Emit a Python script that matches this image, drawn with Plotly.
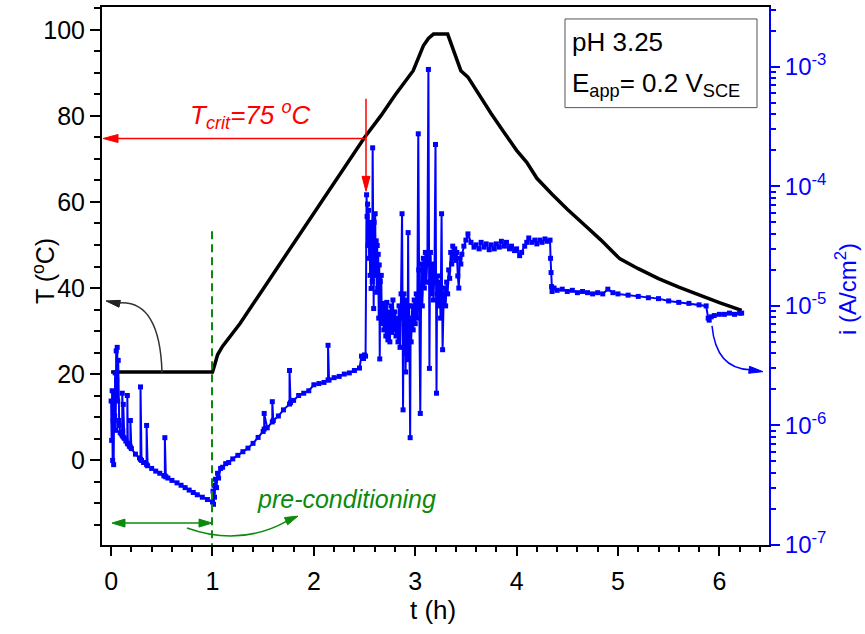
import math
import plotly.graph_objects as go

# ---------------- data ----------------
# Temperature programme (left axis)
temp_t = [0.0, 1.0, 1.02, 1.05, 1.1, 1.15, 1.27, 1.5, 2.0, 2.5,
          2.66, 2.8, 2.98, 3.08, 3.13, 3.18, 3.32, 3.37, 3.42, 3.45,
          3.52, 3.61, 3.75, 3.87, 4.0, 4.1, 4.2, 4.35, 4.5, 4.7,
          4.83, 5.0, 5.02, 5.2, 5.4, 5.6, 5.8, 6.0, 6.22]
temp_T = [20.5, 20.5, 22.0, 24.5, 26.5, 28.0, 31.7, 39.8, 57.5, 75.0,
          80.0, 84.8, 90.5, 96.3, 98.0, 99.0, 99.0, 95.6, 92.0, 90.5,
          89.0, 85.6, 80.5, 76.4, 72.0, 69.2, 65.5, 61.8, 58.3, 54.0,
          51.2, 47.2, 46.8, 44.5, 42.2, 40.2, 38.3, 36.6, 34.8]

# Current density (right axis), pre-conditioning period
cur_t_pre = [0.000, 0.005, 0.010, 0.015, 0.020, 0.025, 0.030, 0.035, 0.040, 0.045,
             0.050, 0.055, 0.060, 0.065, 0.070, 0.075, 0.080, 0.090, 0.100, 0.110,
             0.110, 0.115, 0.120, 0.120, 0.130, 0.145, 0.160, 0.160, 0.165, 0.180,
             0.190, 0.190, 0.200, 0.240, 0.280, 0.290, 0.290, 0.300, 0.320, 0.350,
             0.350, 0.360, 0.400, 0.440, 0.480, 0.520, 0.530, 0.530, 0.540, 0.560,
             0.600, 0.650, 0.690, 0.730, 0.770, 0.810, 0.850, 0.900, 0.950, 1.000]
cur_i_pre = [1.6e-6, 7.5e-7, 1.95e-6, 5.1e-7, 1.1e-6, 4.7e-7, 1.8e-6, 1.2e-6, 2.75e-6, 9.1e-7,
             4.2e-6, 2.4e-6, 4.5e-6, 1.6e-6, 3.5e-6, 1.1e-6, 1.0e-6, 8.7e-7, 8.5e-7, 8.2e-7,
             1.86e-6, 9.0e-7, 8.0e-7, 1.5e-6, 7.8e-7, 7.4e-7, 7.1e-7, 1.78e-6, 7.0e-7, 6.7e-7,
             6.6e-7, 1.1e-6, 6.4e-7, 5.75e-7, 5.35e-7, 5.2e-7, 2.1e-6, 5.1e-7, 4.9e-7, 4.7e-7,
             1.0e-6, 4.6e-7, 4.37e-7, 4.15e-7, 3.98e-7, 3.8e-7, 3.78e-7, 7.9e-7, 3.72e-7, 3.63e-7,
             3.47e-7, 3.31e-7, 3.16e-7, 3.02e-7, 2.88e-7, 2.75e-7, 2.63e-7, 2.51e-7, 2.40e-7, 2.29e-7]

# heating ramp, before pitting
cur_t_ramp = [1.005, 1.010, 1.015, 1.020, 1.030, 1.040, 1.050, 1.060, 1.080, 1.100,
              1.130, 1.160, 1.200, 1.250, 1.300, 1.350, 1.400, 1.450, 1.500, 1.510,
              1.510, 1.540, 1.590, 1.590, 1.600, 1.650, 1.700, 1.760, 1.760, 1.770,
              1.800, 1.850, 1.900, 1.950, 2.000, 2.050, 2.100, 2.140, 2.140, 2.150,
              2.200, 2.250, 2.300, 2.350, 2.400, 2.450, 2.470, 2.490, 2.500, 2.510]
cur_i_ramp = [2.82e-7, 2.19e-7, 3.16e-7, 2.51e-7, 3.55e-7, 3.02e-7, 3.98e-7, 3.63e-7, 4.37e-7, 4.47e-7,
              4.79e-7, 4.90e-7, 5.25e-7, 5.62e-7, 6.03e-7, 6.46e-7, 7.08e-7, 7.94e-7, 8.91e-7, 9.33e-7,
              1.26e-6, 9.55e-7, 1.07e-6, 1.58e-6, 1.10e-6, 1.20e-6, 1.35e-6, 1.51e-6, 2.88e-6, 1.55e-6,
              1.62e-6, 1.78e-6, 1.86e-6, 1.95e-6, 2.19e-6, 2.24e-6, 2.29e-6, 2.40e-6, 4.68e-6, 2.40e-6,
              2.51e-6, 2.57e-6, 2.69e-6, 2.75e-6, 2.88e-6, 3.02e-6, 3.80e-6, 3.63e-6, 3.89e-6, 3.80e-6]

# pitting burst
cur_t_burst = [2.52, 2.525, 2.53, 2.535, 2.54, 2.545, 2.55, 2.555, 2.56, 2.565,
               2.57, 2.575, 2.58, 2.585, 2.59, 2.595, 2.60, 2.605, 2.61, 2.615,
               2.62, 2.625, 2.63, 2.635, 2.64, 2.645, 2.65, 2.655, 2.66, 2.665,
               2.67, 2.68, 2.69, 2.70, 2.71, 2.72, 2.73, 2.74, 2.75, 2.76,
               2.77, 2.78, 2.79, 2.80, 2.81, 2.82, 2.83, 2.84, 2.85, 2.86,
               2.87, 2.875, 2.88, 2.885, 2.89, 2.895, 2.90, 2.905, 2.91, 2.915,
               2.92, 2.925, 2.93, 2.935, 2.94, 2.95, 2.955, 2.96, 2.97, 2.98,
               2.99, 3.00, 3.01, 3.02, 3.03, 3.035, 3.04, 3.05, 3.055, 3.06,
               3.07, 3.08, 3.09, 3.10, 3.11, 3.12, 3.13, 3.135, 3.14, 3.145,
               3.15, 3.16, 3.17, 3.18, 3.19, 3.20, 3.205, 3.21, 3.215, 3.22,
               3.23, 3.24, 3.25, 3.26, 3.265, 3.27, 3.28, 3.29, 3.30, 3.31,
               3.32, 3.33, 3.34, 3.35, 3.36, 3.37, 3.38, 3.39, 3.40, 3.41,
               3.42, 3.43, 3.44, 3.45, 3.46, 3.48, 3.50, 3.52]
cur_i_burst = [8.5e-5, 5.6e-5, 7.1e-5, 3.2e-5, 6.3e-5, 2.5e-5, 4.5e-5, 1.8e-5, 5.0e-5, 1.4e-5,
               3.5e-5, 1.6e-5, 2.1e-4, 2.5e-5, 9.5e-6, 5.0e-5, 2.8e-5, 5.9e-5, 1.8e-5, 3.5e-5,
               1.3e-5, 3.2e-5, 1.4e-5, 2.7e-5, 7.9e-6, 2.2e-5, 3.6e-6, 1.6e-5, 1.0e-5, 1.8e-5,
               7.1e-6, 1.05e-5, 6.3e-6, 1.0e-5, 5.6e-6, 1.07e-5, 5.2e-6, 8.9e-6, 5.0e-6, 1.0e-5,
               6.0e-6, 1.12e-5, 6.3e-6, 8.9e-6, 5.6e-6, 7.9e-6, 5.0e-6, 1.0e-5, 4.5e-6, 1.26e-5,
               5.9e-5, 1.0e-5, 1.35e-6, 7.9e-6, 1.26e-5, 4.0e-6, 1.0e-5, 2.8e-6, 1.12e-5, 5.0e-6,
               8.9e-6, 3.55e-6, 4.1e-5, 6.3e-6, 1.0e-5, 7.9e-7, 7.9e-6, 5.0e-6, 1.0e-5, 6.3e-6,
               1.12e-5, 7.1e-6, 1.26e-5, 7.9e-6, 2.75e-4, 2.0e-5, 1.0e-5, 1.26e-6, 1.26e-5, 2.24e-5,
               1.0e-5, 2.5e-5, 1.41e-5, 2.8e-5, 1.58e-5, 2.5e-5, 9.5e-4, 2.5e-5, 3.0e-6, 1.58e-5,
               2.8e-5, 1.26e-5, 2.24e-5, 1.12e-5, 2.0e-5, 2.24e-4, 1.58e-5, 1.86e-6, 1.26e-5, 1.78e-5,
               1.0e-5, 1.58e-5, 7.9e-6, 5.9e-5, 1.26e-5, 4.3e-6, 1.12e-5, 1.41e-5, 1.0e-5, 1.58e-5,
               1.26e-5, 2.0e-5, 1.7e-5, 2.8e-5, 2.24e-5, 3.16e-5, 2.5e-5, 3.0e-5, 2.4e-5, 2.8e-5,
               1.78e-5, 1.41e-5, 2.5e-5, 2.24e-5, 2.7e-5, 3.16e-5, 3.55e-5, 4.0e-5]

# high plateau
cur_t_plateau = [3.55, 3.58, 3.60, 3.63, 3.65, 3.68, 3.70, 3.73, 3.75, 3.78,
                 3.80, 3.83, 3.85, 3.88, 3.90, 3.93, 3.95, 3.98, 4.00, 4.03,
                 4.05, 4.08, 4.10, 4.12, 4.15, 4.18, 4.20, 4.23, 4.25, 4.28,
                 4.30, 4.33, 4.335, 4.34, 4.345, 4.35]
cur_i_plateau = [3.4e-5, 3.1e-5, 3.24e-5, 3.0e-5, 3.4e-5, 3.1e-5, 3.3e-5, 2.95e-5, 3.24e-5, 3.0e-5,
                 3.3e-5, 3.1e-5, 3.47e-5, 3.16e-5, 3.4e-5, 3.0e-5, 3.16e-5, 2.9e-5, 3.0e-5, 2.63e-5,
                 2.8e-5, 3.16e-5, 3.4e-5, 3.7e-5, 3.4e-5, 3.55e-5, 3.3e-5, 3.55e-5, 3.4e-5, 3.63e-5,
                 3.47e-5, 3.55e-5, 2.5e-5, 1.9e-5, 1.45e-5, 1.32e-5]

# cooling tail
cur_t_tail = [4.37, 4.40, 4.45, 4.50, 4.55, 4.60, 4.65, 4.70, 4.75, 4.80,
              4.85, 4.90, 4.95, 5.00, 5.10, 5.20, 5.30, 5.40, 5.50, 5.60,
              5.70, 5.80, 5.87, 5.89, 5.90, 5.92, 5.95, 6.00, 6.05, 6.10,
              6.15, 6.20, 6.22]
cur_i_tail = [1.41e-5, 1.35e-5, 1.38e-5, 1.32e-5, 1.35e-5, 1.29e-5, 1.32e-5, 1.29e-5, 1.26e-5, 1.29e-5,
              1.26e-5, 1.38e-5, 1.29e-5, 1.26e-5, 1.23e-5, 1.20e-5, 1.17e-5, 1.15e-5, 1.10e-5, 1.07e-5,
              1.05e-5, 1.02e-5, 1.0e-5, 7.9e-6, 7.6e-6, 8.1e-6, 8.3e-6, 8.5e-6, 8.5e-6, 8.7e-6,
              8.5e-6, 8.7e-6, 8.7e-6]

x_ticks = [0, 1, 2, 3, 4, 5, 6]
y_ticks = [0, 20, 40, 60, 80, 100]
y2_ticks = [1e-7, 1e-6, 1e-5, 1e-4, 1e-3]
y2_ticktext = ["10<sup>-7</sup>", "10<sup>-6</sup>", "10<sup>-5</sup>", "10<sup>-4</sup>", "10<sup>-3</sup>"]
t_crit = 75

cur_t = cur_t_pre + cur_t_ramp + cur_t_burst + cur_t_plateau + cur_t_tail
cur_i = cur_i_pre + cur_i_ramp + cur_i_burst + cur_i_plateau + cur_i_tail

# ---------------- geometry helpers (decorations) ----------------
W, H = 865, 634
PL, PR, PT, PB = 102, 769, 5, 545
XR = [-0.09, 6.49]
YR = [-19.7, 105.3]
Y2R = [-7, -2.5]
FONT = "Arial, Liberation Sans, sans-serif"
BLUE = "#0000FF"
GREEN = "#0B8A0B"
RED = "#FF0000"


def px2x(px):
    return XR[0] + (px - PL) / (PR - PL) * (XR[1] - XR[0])


def py2y(py):
    return YR[1] - (py - PT) / (PB - PT) * (YR[1] - YR[0])


def pxp(px):
    return (px - PL) / (PR - PL)


def pyp(py):
    return 1 - (py - PT) / (PB - PT)


def head(tip, frm, color, L=13, Wd=8):
    tx, ty = tip
    fx, fy = frm
    d = math.hypot(tx - fx, ty - fy)
    ux, uy = (tx - fx) / d, (ty - fy) / d
    bx, by = tx - ux * L, ty - uy * L
    nx, ny = -uy, ux
    p1 = (bx + nx * Wd / 2, by + ny * Wd / 2)
    p2 = (bx - nx * Wd / 2, by - ny * Wd / 2)
    path = (f"M {px2x(tx)},{py2y(ty)} L {px2x(p1[0])},{py2y(p1[1])} "
            f"L {px2x(p2[0])},{py2y(p2[1])} Z")
    return dict(type="path", path=path, xref="x", yref="y", fillcolor=color,
                line=dict(color=color, width=1), layer="above")


def seg(p0, p1, color, width=1.5, dash=None):
    ln = dict(color=color, width=width)
    if dash:
        ln["dash"] = dash
    return dict(type="line", xref="x", yref="y", x0=px2x(p0[0]), y0=py2y(p0[1]),
                x1=px2x(p1[0]), y1=py2y(p1[1]), line=ln, layer="above")


def curve(p0, c, p1, color, width=1.5):
    path = (f"M {px2x(p0[0])},{py2y(p0[1])} Q {px2x(c[0])},{py2y(c[1])} "
            f"{px2x(p1[0])},{py2y(p1[1])}")
    return dict(type="path", path=path, xref="x", yref="y",
                line=dict(color=color, width=width), layer="above")


fig = go.Figure()

fig.add_trace(go.Scatter(x=temp_t, y=temp_T, mode="lines",
                         line=dict(color="black", width=3.5), showlegend=False,
                         yaxis="y"))
fig.add_trace(go.Scatter(x=cur_t, y=cur_i, mode="lines+markers",
                         line=dict(color=BLUE, width=2),
                         marker=dict(symbol="square", size=5, color=BLUE),
                         showlegend=False, yaxis="y2"))

shapes = []
# T_crit arrows (red)
shapes.append(seg((366, 137), (112, 137), RED))
shapes.append(head((103, 137), (366, 137), RED, L=15, Wd=8))
shapes.append(seg((366, 97), (366, 178), RED))
shapes.append(head((366, 190), (366, 97), RED, L=15, Wd=8))
# black curved arrow pointing to T axis
shapes.append(curve((162, 372), (160, 300), (120, 302), "#333333", 1.5))
shapes.append(head((106, 300), (125, 304), "#222222", L=14, Wd=7))
# blue curved arrow pointing to current axis
shapes.append(curve((712, 325), (716, 368), (750, 369), BLUE, 1.5))
shapes.append(head((763, 371), (748, 369), BLUE, L=14, Wd=7))
# green dashed line at end of pre-conditioning
shapes.append(seg((212, 230), (212, 545), GREEN, 2, "8px,5px"))
# green double arrow
shapes.append(seg((122, 523), (202, 523), GREEN, 1.5))
shapes.append(head((112, 523), (212, 523), GREEN, L=13, Wd=8))
shapes.append(head((212, 523), (112, 523), GREEN, L=13, Wd=8))
# green curved arrow
shapes.append(curve((187, 528), (240, 547), (287, 521), GREEN, 1.5))
shapes.append(head((298, 516), (284, 522), GREEN, L=13, Wd=8))
# info box
shapes.append(dict(type="rect", xref="paper", yref="paper",
                   x0=pxp(565), x1=pxp(757), y0=pyp(106), y1=pyp(17),
                   line=dict(color="#555555", width=1), fillcolor="rgba(0,0,0,0)",
                   layer="above"))

annotations = [
    dict(text="<i>T<sub>crit</sub>=%d <sup>o</sup>C</i>" % t_crit, x=px2x(250), y=py2y(113),
         xref="x", yref="y", xanchor="center", yanchor="middle", showarrow=False,
         font=dict(family=FONT, size=26, color=RED)),
    dict(text="<i>pre-conditioning</i>", x=px2x(346), y=py2y(499), xref="x", yref="y",
         xanchor="center", yanchor="middle", showarrow=False,
         font=dict(family=FONT, size=25, color=GREEN)),
    dict(text="pH 3.25", x=pxp(570), y=pyp(40),
         xref="paper", yref="paper", xanchor="left", yanchor="middle", showarrow=False,
         font=dict(family=FONT, size=26, color="black")),
    dict(text="E<sub>app</sub>= 0.2 V<sub>SCE</sub>", x=pxp(570), y=pyp(83),
         xref="paper", yref="paper", xanchor="left", yanchor="middle", showarrow=False,
         font=dict(family=FONT, size=26, color="black")),
    # axis titles
    dict(text="T (<sup>o</sup>C)", x=pxp(44), y=pyp(270),
         xref="paper", yref="paper", xanchor="center", yanchor="middle",
         textangle=-90, showarrow=False,
         font=dict(family=FONT, size=25, color="black")),
    dict(text="i (A/cm<sup>2</sup>)", x=pxp(846), y=pyp(288),
         xref="paper", yref="paper", xanchor="center", yanchor="middle",
         textangle=-90, showarrow=False,
         font=dict(family=FONT, size=24, color=BLUE)),
    dict(text="t (h)", x=pxp(433), y=pyp(610),
         xref="paper", yref="paper", xanchor="center", yanchor="middle", showarrow=False,
         font=dict(family=FONT, size=26, color="black")),
]

y2_minor = [m * d for d in [1e-7, 1e-6, 1e-5, 1e-4, 1e-3] for m in range(2, 10)]

fig.update_layout(
    width=W, height=H, autosize=False,
    margin=dict(l=PL, r=W - PR, t=PT, b=H - PB, pad=0),
    paper_bgcolor="white", plot_bgcolor="white",
    font=dict(family=FONT, size=25, color="black"),
    showlegend=False,
    shapes=shapes, annotations=annotations,
    xaxis=dict(range=XR, tickvals=x_ticks, showgrid=False, zeroline=False,
               showline=True, linecolor="black", linewidth=2, mirror=True,
               ticks="outside", ticklen=9, tickwidth=2, tickcolor="black",
               ticklabelstandoff=4,
               tickfont=dict(family=FONT, size=25, color="black"),
               minor=dict(dtick=0.2, tick0=0, ticks="outside", ticklen=5,
                          tickwidth=1.5, tickcolor="black")),
    yaxis=dict(range=YR, tickvals=y_ticks, showgrid=False, zeroline=False,
               showline=True, linecolor="black", linewidth=2,
               ticks="outside", ticklen=10, tickwidth=2, tickcolor="black",
               tickfont=dict(family=FONT, size=25, color="black"),
               minor=dict(dtick=5, tick0=0, ticks="outside", ticklen=6,
                          tickwidth=1.5, tickcolor="black")),
    yaxis2=dict(type="log", range=Y2R, overlaying="y", side="right",
                tickvals=y2_ticks, ticktext=y2_ticktext, showgrid=False, zeroline=False,
                showline=True, linecolor=BLUE, linewidth=2,
                ticks="outside", ticklen=9, tickwidth=2, tickcolor=BLUE,
                tickfont=dict(family=FONT, size=24, color=BLUE),
                minor=dict(tickmode="array", tickvals=y2_minor, ticks="outside",
                           ticklen=5, tickwidth=1.5, tickcolor=BLUE)),
)

fig.write_html("out.html", config={"displayModeBar": False},
               post_script="document.body.style.margin='0';document.body.style.overflow='hidden';")
